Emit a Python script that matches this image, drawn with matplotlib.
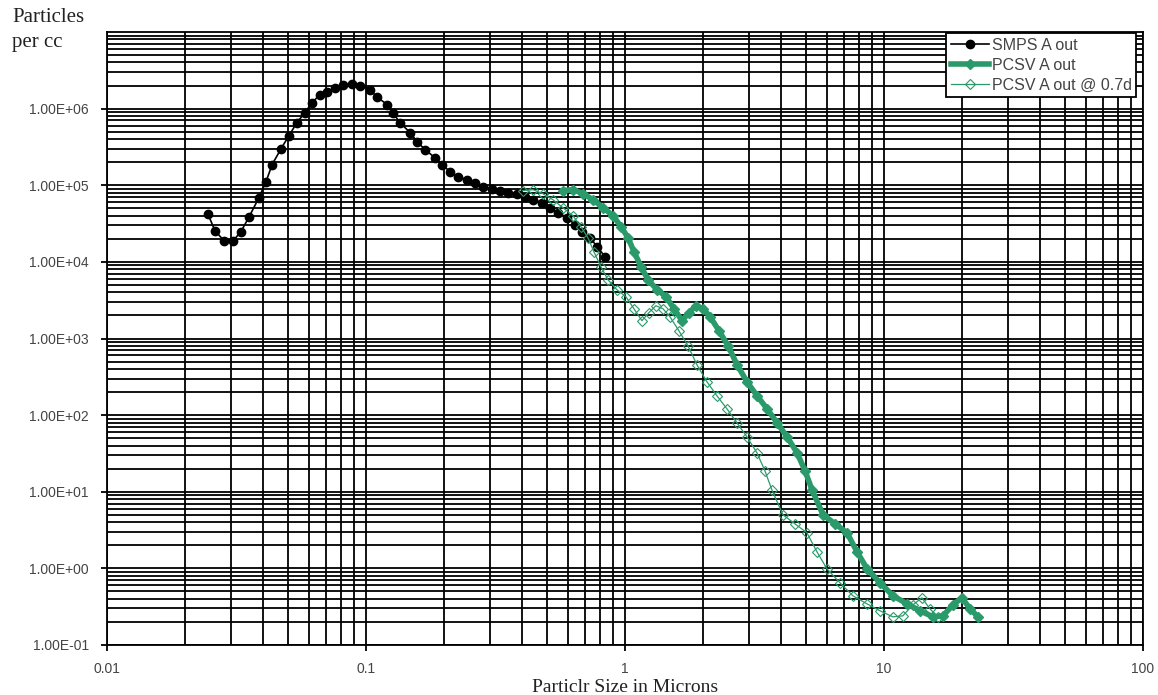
import matplotlib
matplotlib.use("Agg")
import matplotlib.pyplot as plt
from matplotlib.ticker import LogLocator, NullFormatter

# SMPS A out (diameter in microns, particles per cc)
smps_d = [0.0245, 0.0261, 0.0283, 0.0307, 0.0329, 0.0354, 0.0386, 0.0411, 0.0434, 0.0470,
          0.0504, 0.0541, 0.0581, 0.0619, 0.0664, 0.0707, 0.0759, 0.0815, 0.0883, 0.0948,
          0.1035, 0.110, 0.1206, 0.127, 0.1353, 0.148, 0.1574, 0.169, 0.1846, 0.1965,
          0.211, 0.2265, 0.2455, 0.2636, 0.283, 0.306, 0.329, 0.353, 0.383, 0.411,
          0.4415, 0.479, 0.513, 0.551, 0.597, 0.641, 0.682, 0.733, 0.780, 0.837]
smps_n = [4.26e4, 2.55e4, 1.89e4, 1.89e4, 2.48e4, 3.89e4, 6.89e4, 1.11e5, 1.86e5, 3.0e5,
          4.44e5, 6.56e5, 8.87e5, 1.2e6, 1.52e6, 1.67e6, 1.88e6, 2.06e6, 2.12e6, 2.0e6,
          1.77e6, 1.43e6, 1.13e6, 8.87e5, 6.56e5, 4.86e5, 3.71e5, 2.92e5, 2.29e5, 1.86e5,
          1.51e5, 1.29e5, 1.18e5, 1.08e5, 9.6e4, 9.0e4, 8.5e4, 8.0e4, 7.77e4, 7.1e4,
          6.49e4, 5.93e4, 5.1e4, 4.39e4, 3.78e4, 3.06e4, 2.48e4, 2.07e4, 1.58e4, 1.17e4]

# PCSV A out
pcsv_d = [0.576, 0.630, 0.688, 0.752, 0.822, 0.899, 0.965, 1.027, 1.083, 1.153,
          1.227, 1.329, 1.440, 1.546, 1.660, 1.766, 1.880, 2.001, 2.129, 2.307,
          2.499, 2.707, 2.958, 3.234, 3.535, 3.863, 4.222, 4.615, 4.955, 5.272,
          5.815, 6.469, 7.195, 7.867, 8.600, 9.652, 10.83, 12.27, 13.77, 15.46,
          16.89, 18.47, 20.01, 21.48, 23.07]
pcsv_n = [8.50e4, 8.76e4, 7.77e4, 6.49e4, 5.10e4, 4.01e4, 2.88e4, 2.07e4, 1.36e4, 8.66e3,
          5.86e3, 4.34e3, 3.51e3, 2.45e3, 1.71e3, 2.17e3, 2.68e3, 2.45e3, 1.93e3, 1.26e3,
          805, 455, 273, 179, 121, 79.6, 52.2, 32.3, 18.8, 10.6,
          5.01, 3.82, 2.92, 1.65, 0.988, 0.649, 0.439, 0.345, 0.280, 0.233,
          0.240, 0.335, 0.413, 0.297, 0.233]

# same counts plotted at 0.7 x diameter
scale_07 = 0.7
pcsv07_d = [d * scale_07 for d in pcsv_d]

y_ticks = [1e-1, 1e0, 1e1, 1e2, 1e3, 1e4, 1e5, 1e6]
y_labels = ["1.00E-01", "1.00E+00", "1.00E+01", "1.00E+02",
            "1.00E+03", "1.00E+04", "1.00E+05", "1.00E+06"]
x_ticks = [0.01, 0.1, 1, 10, 100]
x_labels = ["0.01", "0.1", "1", "10", "100"]

green = "#2a9a6a"
W, H = 1158, 695

fig = plt.figure(figsize=(W / 100, H / 100), dpi=100)
ax = fig.add_axes([107 / W, 1 - 645 / H, (1143 - 107) / W, (645 - 32) / H])

ax.set_xscale("log")
ax.set_yscale("log")
ax.set_xlim(0.01, 100)
ax.set_ylim(0.1, 1e7)

ax.xaxis.set_minor_locator(LogLocator(base=10, subs=range(2, 10)))
ax.yaxis.set_minor_locator(LogLocator(base=10, subs=range(2, 10)))
ax.xaxis.set_minor_formatter(NullFormatter())
ax.yaxis.set_minor_formatter(NullFormatter())
ax.grid(True, which="both", color="black", lw=1.3)
ax.set_axisbelow(True)

ax.set_xticks(x_ticks)
ax.set_xticklabels(x_labels)
ax.set_yticks(y_ticks)
ax.set_yticklabels(y_labels)
ax.tick_params(which="major", direction="out", length=4, width=1.3, color="black",
               labelsize=10, labelcolor="#444444")
ax.tick_params(axis="y", pad=9)
ax.tick_params(axis="x", pad=8)
ax.tick_params(which="minor", length=0)
for lab in ax.get_xticklabels() + ax.get_yticklabels():
    lab.set_family("Liberation Sans")
for s in ax.spines.values():
    s.set_color("black")
    s.set_linewidth(1.3)

l1, = ax.plot(smps_d, smps_n, color="black", lw=1.2, marker="o", ms=6,
              label="SMPS A out")
l2, = ax.plot(pcsv_d, pcsv_n, color=green, lw=4, marker="D", ms=5.5,
              label="PCSV A out")
l3, = ax.plot(pcsv07_d, pcsv_n, color=green, lw=0.9, marker="D", ms=5.5,
              mfc="none", mew=0.8, label="PCSV A out @ 0.7d")

leg = fig.legend(handles=[l1, l2, l3], loc="upper left",
                 bbox_to_anchor=(946 / W, 1 - 33 / H), frameon=True, fancybox=False,
                 framealpha=1, edgecolor="black", borderpad=0.3, handlelength=2.4,
                 handletextpad=0.15, labelspacing=0.3, borderaxespad=0,
                 prop={"family": "Liberation Sans", "size": 11.5})
leg.get_frame().set_linewidth(1.3)
for t in leg.get_texts():
    t.set_color("#444444")

fig.text(12 / W, 1 - 18 / H, "Particles", family="Liberation Serif", fontsize=15,
         va="center", ha="left", color="#222222")
fig.text(12 / W, 1 - 43 / H, "per cc", family="Liberation Serif", fontsize=15,
         va="center", ha="left", color="#222222")
fig.text(625 / W, 1 - 688 / H, "Particlr Size in Microns", family="Liberation Serif",
         fontsize=14, va="center", ha="center", color="#222222")

fig.savefig("out.png", dpi=100, facecolor="white")
